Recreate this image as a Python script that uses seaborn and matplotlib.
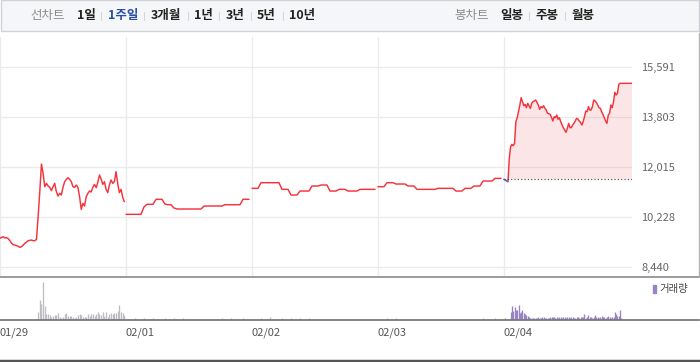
import numpy as np
import pandas as pd
import matplotlib
matplotlib.use("Agg")
import matplotlib.pyplot as plt
import seaborn as sns
from matplotlib.lines import Line2D
from matplotlib.patches import Rectangle

# ---------------- data ----------------
dates = ["01/29", "02/01", "02/02", "02/03", "02/04"]
price_ticks = [8440, 10228, 12015, 13803, 15591]
prev_close = 11585

price_d1 = [9475, 9511, 9534, 9487, 9499, 9463, 9391, 9296, 9248, 9236, 9213, 9189,
            9153, 9177, 9236, 9296, 9344, 9391, 9403, 9415, 9391, 9391, 9439,
            10250, 11144, 12133, 11799, 11322, 11442, 11346, 11299, 11179, 11322,
            11442, 11144, 10989, 11084, 11024, 11299, 11501, 11585, 11644, 11585,
            11501, 11322, 11299, 11382, 11299, 10965, 10512, 10726, 10631, 10965,
            11084, 11167, 11132, 11299, 11406, 11287, 11477, 11740, 11597, 11406,
            11501, 11227, 11108, 11382, 11561, 11442, 11501, 11859, 11442, 11108,
            11227, 10941, 10786]
vol_d1 = [0, 0, 0, 0, 0, 0, 0, 0, 0, 0, 0, 0, 0, 0, 0, 0, 0, 0, 0, 0, 0, 0, 0,
          22, 58, 45, 110, 40, 16, 16, 13, 8, 10, 12, 13, 20, 8, 4, 6, 16, 20, 11,
          10, 10, 8, 5, 8, 13, 16, 12, 8, 6, 8, 16, 11, 16, 16, 10, 16, 21, 16, 13,
          22, 10, 22, 8, 16, 20, 16, 18, 18, 26, 43, 22, 20, 13]

price_d2 = [10334, 10334, 10334, 10334, 10334, 10334, 10600, 10692, 10692, 10692,
            10871, 10871, 10871, 10700, 10678, 10678, 10560, 10524, 10524, 10524,
            10524, 10524, 10524, 10524, 10524, 10524, 10631, 10631, 10631, 10631,
            10631, 10631, 10631, 10678, 10678, 10678, 10678, 10678, 10678, 10871,
            10871, 10871]
vol_d2 = [0, 0, 0, 3, 0, 0, 3, 0, 0, 3, 0, 0, 0, 3, 0, 0, 3, 0, 0, 3,
          0, 0, 0, 0, 0, 0, 0, 0, 0, 0, 0, 0, 3, 0, 0, 3, 0, 0, 0, 3, 0, 0]

price_d3 = [11263, 11263, 11263, 11465, 11465, 11465, 11465, 11465, 11465, 11465,
            11227, 11227, 11227, 11024, 11024, 11024, 11167, 11167, 11167, 11167,
            11346, 11346, 11346, 11382, 11382, 11382, 11167, 11167, 11167, 11227,
            11227, 11227, 11167, 11167, 11167, 11167, 11227, 11227, 11227, 11227,
            11227, 11227]
vol_d3 = [0, 0, 0, 3, 0, 0, 6, 0, 0, 0, 3, 0, 0, 3, 0, 0, 3, 0, 0, 3,
          0, 0, 0, 0, 0, 0, 0, 0, 0, 0, 0, 0, 0, 0, 0, 0, 0, 0, 0, 0, 0, 0]

price_d4 = [11322, 11322, 11322, 11465, 11465, 11465, 11418, 11418, 11418, 11418,
            11346, 11346, 11346, 11227, 11227, 11227, 11227, 11227, 11227, 11227,
            11263, 11263, 11263, 11263, 11263, 11263, 11167, 11167, 11167, 11263,
            11263, 11263, 11346, 11346, 11346, 11525, 11525, 11525, 11525, 11620,
            11620, 11620]
vol_d4 = [0, 0, 0, 3, 0, 0, 3, 0, 0, 0, 0, 0, 0, 0, 0, 0, 0, 0, 0, 0,
          0, 0, 0, 0, 0, 0, 0, 0, 0, 0, 0, 0, 0, 0, 0, 3, 0, 0, 0, 3, 0, 0]

price_d5 = [11585, 11561, 11525, 11501, 12336, 12753, 12836, 12789, 12872, 13647,
            13790, 14004, 14243, 14505, 14362, 14219, 14267, 14147, 14302, 14207,
            14124, 14302, 14362, 14386, 14422, 14338, 14243, 14088, 14183, 14147,
            14219, 14124, 14064, 13945, 13933, 13909, 13802, 13671, 13826, 13790,
            13885, 13730, 13790, 13647, 13528, 13432, 13349, 13265, 13408, 13587,
            13432, 13432, 13528, 13587, 13671, 13766, 13742, 13671, 13623, 13528,
            13647, 13826, 14028, 14004, 14183, 14064, 14064, 14183, 14422, 14386,
            14338, 14243, 14147, 14124, 14004, 13909, 13790, 13671, 13587, 13885,
            13945, 14243, 14147, 14362, 14696, 14600, 14660, 14982, 15018, 15018,
            15018, 15018, 15018, 15018, 15018, 15018, 15018, 15018]
vol_d5 = [0, 3, 0, 0, 0,
          23, 40, 26, 38, 28, 28, 44, 18, 22, 28, 18, 16, 13, 10,
          8, 5, 4, 4, 4, 5, 4, 8, 4, 5, 6, 8,
          4, 5, 4, 4, 6, 8, 6, 8, 5, 8, 4, 8, 6, 5, 8,
          6, 4, 8, 6, 4, 8, 6, 4, 5, 8, 6, 4, 8, 6, 8,
          16, 4, 8, 12, 8, 6, 4, 8, 14,
          8, 6, 4, 8, 10, 6, 8, 4, 8, 10, 6, 4, 8, 6,
          22, 15, 10, 10, 28, 4,
          0, 0, 0, 0, 0, 0, 0, 0]

prices = [price_d1, price_d2, price_d3, price_d4, price_d5]
vols = [vol_d1, vol_d2, vol_d3, vol_d4, vol_d5]

# ---------------- layout ----------------
W, H = 700, 362
X_END = 632 / 126          # right edge of the price area, in days
V_END = 699 / 126          # right edge of volume axis, in days

rows = []
for d, (p, v) in enumerate(zip(prices, vols)):
    n = len(p)
    if d < 4:
        xs = d + np.arange(n) / n
    else:
        xs = d + np.linspace(0, X_END - d, n)
    for xx, pp, vv in zip(xs, p, v):
        rows.append((d, xx, pp, vv))
df = pd.DataFrame(rows, columns=["day", "x", "price", "vol"])

sns.set_style("white")
plt.rcParams["font.family"] = ["Noto Sans CJK KR", "DejaVu Sans"]

fig = plt.figure(figsize=(7, 3.62), dpi=100)


def fx(px):
    return px / W


def fy(py):
    return 1 - py / H


ax = fig.add_axes([0, fy(276), 632 / W, (276 - 37) / H])
axv = fig.add_axes([0, fy(319.5), 699 / W, (319.5 - 277) / H])

RED = "#f5333c"
BLUE = "#3b7ddd"

sns.lineplot(data=df, x="x", y="price", units="day", estimator=None, sort=False,
             color=RED, lw=1.05, ax=ax)
d5 = df[df.day == 4]
x5 = d5.x.to_numpy()
p5 = d5.price.to_numpy()
ax.fill_between(x5, p5, prev_close, where=p5 >= prev_close, interpolate=True,
                color="#ef3b45", alpha=0.13, lw=0)
ax.plot(x5[:4], p5[:4], color=BLUE, lw=1.05)
ax.hlines(prev_close, x5[0], x5[-1], colors="#444444", linestyles=(0, (1, 2)), lw=0.8)

ylo = price_ticks[0] - (276 - 267.3) / 50 * (price_ticks[1] - price_ticks[0])
yhi = price_ticks[-1] + (67.3 - 37) / 50 * (price_ticks[1] - price_ticks[0])
ax.set_ylim(ylo, yhi)
ax.set_xlim(0, X_END)
ax.set_yticks(price_ticks)
ax.set_yticklabels([f"{v:,}" for v in price_ticks])
ax.set_xticks(range(5))
ax.set_xticklabels([])
ax.grid(True, color="#ebebeb", lw=1)
ax.set_axisbelow(True)
ax.yaxis.tick_right()
ax.tick_params(axis="y", length=0, pad=6.5, labelsize=8, labelcolor="#666666")
ax.tick_params(axis="x", length=0)
ax.set_xlabel("")
ax.set_ylabel("")
for s in ax.spines.values():
    s.set_visible(False)

# volume
past = df[df.day < 4]
axv.vlines(past.x, 0, past.vol, color="#bdbdc4", lw=0.95)
axv.vlines(d5.x, 0, d5.vol, color="#9783c6", lw=0.95)
axv.set_xlim(0, V_END)
axv.set_ylim(0, 126)
axv.set_yticks([])
axv.set_xticks(range(5))
axv.set_xticklabels(dates)
for lab in axv.get_xticklabels():
    lab.set_horizontalalignment("left")
axv.tick_params(axis="x", direction="out", length=3.6, width=0.8, color="#888888",
                labelsize=8, labelcolor="#555555", pad=2.5)
for k, s in axv.spines.items():
    s.set_visible(k == "bottom")
axv.spines["bottom"].set_color("#7a7a7a")
axv.spines["bottom"].set_linewidth(1.3)
axv.patch.set_alpha(0)

# legend
fig.patches.append(Rectangle((fx(652.7), fy(293)), 2.8 / W, 8 / H,
                             transform=fig.transFigure, color="#9783c6"))
fig.text(fx(659), fy(289), "거래량", fontsize=7.5, va="center", ha="left", color="#444444")

# header
fig.patches.append(Rectangle((fx(0.5), fy(30.5)), 698.5 / W, 30 / H,
                             transform=fig.transFigure, facecolor="#f5f6f8",
                             edgecolor="#cfd2d6", lw=1))
hdr = [("선차트", 48, "#8a8a8a", "normal"), ("1일", 86, "#222222", "bold"),
       ("1주일", 123, "#2a4ea6", "bold"), ("3개월", 166, "#222222", "bold"),
       ("1년", 203, "#222222", "bold"), ("3년", 235, "#222222", "bold"),
       ("5년", 266, "#222222", "bold"), ("10년", 302, "#222222", "bold"),
       ("봉차트", 472, "#8a8a8a", "normal"), ("일봉", 512, "#222222", "bold"),
       ("주봉", 547, "#222222", "bold"), ("월봉", 583, "#222222", "bold")]
for t, cx, c, w in hdr:
    fig.text(fx(cx), fy(15.5), t, ha="center", va="center", fontsize=9,
             color=c, fontweight=w)
for sx in [101, 144, 188, 219, 251, 283, 529, 565]:
    fig.add_artist(Line2D([fx(sx), fx(sx)], [fy(11.5), fy(20)], color="#d6d6d6", lw=0.8))

# frame lines
fig.add_artist(Line2D([fx(699), fx(699)], [fy(33), fy(276)], color="#b5b5b5", lw=1))
fig.add_artist(Line2D([0, fx(699)], [fy(276.5), fy(276.5)], color="#8a8a8a", lw=1.2))
fig.add_artist(Line2D([0, 1], [fy(360.5), fy(360.5)], color="#555555", lw=2.5))

fig.savefig("out.png", dpi=100)
